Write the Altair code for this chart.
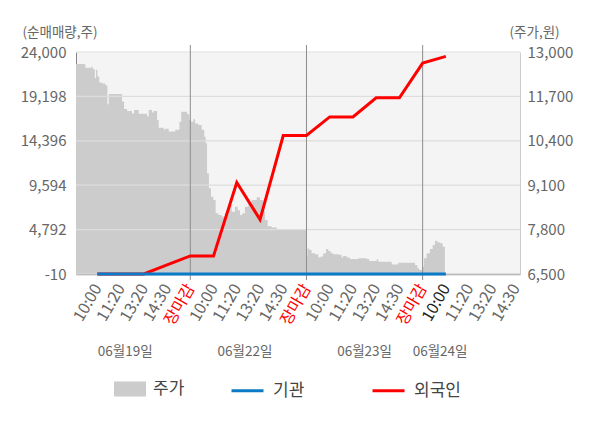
import json
import altair as alt
import pandas as pd

FONT = "Noto Sans CJK KR"

# ---- data ----
time_labels = ["10:00", "11:20", "13:20", "14:30", "장마감"]
day_labels = ["06월19일", "06월22일", "06월23일", "06월24일"]
day_label_pos = [2.2, 7.35, 12.5, 15.75]
day_bounds = [5, 10, 15]

flow_x = list(range(1, 17))
inst_vals = [0, 0, 0, 0, 0, 0, 0, 0, 0, 0, 0, 0, 0, 0, 0, 0]
foreign_vals = [0, 0, 0, 980, 1950, 1950, 9890, 5880, 14970, 14970,
                16980, 16980, 19050, 19050, 22800, 23530]

left_ticks = [-10, 4792, 9594, 14396, 19198, 24000]
right_ticks = [6500, 7800, 9100, 10400, 11700, 13000]

price_x = [0.08, 0.48, 0.74, 0.80, 0.89, 0.94, 1.00, 1.08, 1.20, 1.34,
           1.43, 1.49, 2.06, 2.15, 2.28, 2.49, 2.58, 2.78, 3.14, 3.21,
           3.35, 3.42, 3.57, 3.64, 3.86, 3.92, 4.07, 4.35, 4.53, 4.61,
           4.86, 4.96,
           5.03, 5.13, 5.20, 5.34, 5.49, 5.60, 5.66, 5.72, 5.80, 5.89,
           5.99, 6.09, 6.21, 6.35, 6.49, 6.64, 6.78, 6.92, 7.04, 7.14,
           7.24, 7.35, 7.50, 7.64, 7.86, 8.00, 8.14, 8.21, 8.33, 8.50,
           8.72,
           9.98, 10.04, 10.12, 10.22, 10.37, 10.51, 10.61, 10.72, 10.84, 10.94,
           11.04, 11.15, 11.37, 11.51, 11.58, 11.73, 11.87, 12.23, 12.59, 12.70,
           13.02, 13.09, 13.67, 13.95, 14.67, 14.77, 14.85,
           15.00, 15.06, 15.17, 15.31, 15.43, 15.53, 15.63, 15.74, 15.86, 15.96]
price_vals = [12650, 12540, 12570, 12500, 12230, 12470, 12280, 12110, 12080, 12030,
              11470, 11770, 11550, 11330, 11270, 11200, 11300, 11190, 11110, 11300,
              11230, 11270, 11010, 10780, 10720, 10750, 10670, 10720, 10960, 11250,
              11180, 11010,
              10960, 11030, 10910, 10860, 10720, 10520, 10330, 9450, 9010, 8760,
              8670, 8280, 8230, 8180, 8280, 8520, 8320, 8470, 8370, 8230,
              8280, 8470, 8570, 8670, 8750, 8670, 8370, 8080, 7900, 7860,
              7810,
              7010, 7250, 7200, 7110, 7080, 6980, 7010, 7110, 7230, 7170,
              7110, 7080, 7060, 6980, 7030, 6980, 6940, 6960, 6940, 6880,
              6930, 6860, 6780, 6830, 6760, 6670, 6620,
              6710, 6960, 7110, 7230, 7350, 7470, 7430, 7400, 7300, 7300]

# ---- tables ----
price_df = pd.DataFrame({"x": price_x, "price": price_vals, "series": "주가"})
foreign_df = pd.DataFrame({"x": flow_x, "v": foreign_vals, "series": "외국인"})
inst_df = pd.DataFrame({"x": flow_x, "v": inst_vals, "series": "기관"})
bounds_df = pd.DataFrame({"b": day_bounds})
grid_df = pd.DataFrame({"t": left_ticks})
days_df = pd.DataFrame({"pos": day_label_pos, "label": day_labels})

GRAY_TXT = "#666666"
NUM_EXPR = "datum.value < 0 ? '-' + format(-datum.value, ',.0f') : format(datum.value, ',.0f')"

xscale = alt.Scale(domain=[0.08, 19.19], nice=False, zero=False)
label_expr = json.dumps(time_labels, ensure_ascii=False) + "[(datum.value - 1) % 5]"
xaxis = alt.Axis(
    values=list(range(1, 20)), labelExpr=label_expr, labelAngle=-60,
    labelAlign="right", labelBaseline="middle", labelFont=FONT, labelFontSize=16,
    labelColor={"condition": [{"test": "datum.value % 5 == 0", "value": "#ff0000"},
                              {"test": "datum.value == 16", "value": "#222222"}],
                "value": GRAY_TXT},
    labelPadding=11, labelOverlap=False, labelBound=False, labelFlush=False,
    ticks=False, grid=False, domainColor="#999999", domainWidth=1.5, title=None,
)

lscale = alt.Scale(domain=[-10, 24000], nice=False, zero=False)
laxis = alt.Axis(
    orient="left", values=left_ticks, labelExpr=NUM_EXPR, grid=False, ticks=False,
    labelFont=FONT, labelFontSize=15, labelColor=GRAY_TXT, labelPadding=10,
    domainColor="#888888", title="(순매매량,주)", titleAngle=0, titleX=-54, titleY=-20,
    titleAlign="left", titleBaseline="middle", titleFont=FONT, titleFontSize=13.5,
    titleFontWeight="normal", titleColor=GRAY_TXT,
)
rscale = alt.Scale(domain=[6500, 13000], nice=False, zero=False)
raxis = alt.Axis(
    orient="right", values=right_ticks, labelExpr=NUM_EXPR, grid=False, ticks=False,
    labelFont=FONT, labelFontSize=15, labelColor=GRAY_TXT, labelPadding=7,
    domainColor="#cccccc", title="(주가,원)", titleAngle=0, titleX=-11, titleY=-20,
    titleAlign="left", titleBaseline="middle", titleFont=FONT, titleFontSize=13.5,
    titleFontWeight="normal", titleColor=GRAY_TXT,
)

area = alt.Chart(price_df).mark_area(interpolate="step-after", clip=True).encode(
    x=alt.X("x:Q", scale=xscale, axis=xaxis),
    y=alt.Y("price:Q", scale=rscale, axis=raxis),
    fill=alt.Fill("series:N", scale=alt.Scale(domain=["주가"], range=["#cccccc"]),
                  legend=alt.Legend(orient="none", legendX=38, legendY=321,
                                    direction="horizontal", title=None,
                                    symbolType="M-1,-0.47H1V0.47H-1Z", symbolSize=1024,
                                    symbolStrokeWidth=0, labelFont=FONT, labelFontSize=17,
                                    labelColor="#444444", labelOffset=7, padding=0)),
)

hgrid = alt.Chart(grid_df).mark_rule(color="#dddddd", strokeWidth=1.2).encode(
    y=alt.Y("t:Q", scale=lscale, axis=laxis),
)

vrules = alt.Chart(bounds_df).mark_rule(color="#8c8c8c", strokeWidth=1).encode(
    x=alt.X("b:Q", scale=xscale, axis=xaxis),
    y=alt.value(-7), y2=alt.value(228),
)

stroke_scale = alt.Scale(domain=["기관", "외국인"], range=["#0b7bc8", "#ff0000"])
stroke_legend = alt.Legend(orient="none", legendX=154, legendY=321, direction="horizontal",
                           title=None, symbolType="stroke", symbolSize=1024,
                           symbolStrokeWidth=3, labelFont=FONT, labelFontSize=17,
                           labelColor="#444444", labelOffset=8, columnPadding=61, padding=0)

red = alt.Chart(foreign_df).mark_line(strokeWidth=3).encode(
    x=alt.X("x:Q", scale=xscale, axis=xaxis),
    y=alt.Y("v:Q", scale=lscale, axis=laxis),
    stroke=alt.Stroke("series:N", scale=stroke_scale, legend=stroke_legend),
)
blue = alt.Chart(inst_df).mark_line(strokeWidth=3).encode(
    x=alt.X("x:Q", scale=xscale, axis=xaxis),
    y=alt.Y("v:Q", scale=lscale, axis=laxis),
    stroke=alt.Stroke("series:N", scale=stroke_scale, legend=stroke_legend),
)

days_txt = alt.Chart(days_df).mark_text(font=FONT, fontSize=13.5, color=GRAY_TXT,
                                        align="center", baseline="middle").encode(
    x=alt.X("pos:Q", scale=xscale, axis=xaxis),
    y=alt.value(300),
    text="label:N",
)

left_group = alt.layer(hgrid, vrules, red, blue, days_txt)

chart = alt.layer(area, left_group).resolve_scale(
    y="independent", fill="independent", stroke="independent"
).properties(
    width=444, height=222,
    autosize=alt.AutoSizeParams(type="none"),
    padding={"left": 68, "top": 44, "right": 68, "bottom": 140},
).configure_view(fill="#f4f4f4", stroke="transparent")

chart.save("out.html", embed_options={"renderer": "svg", "actions": False})
